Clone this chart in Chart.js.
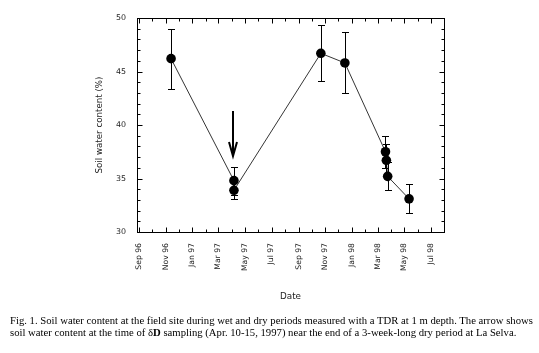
<!DOCTYPE html>
<html><head><meta charset="utf-8">
<script src="https://cdn.jsdelivr.net/npm/chart.js@4/dist/chart.umd.min.js"></script>
<style>
html,body{margin:0;padding:0;background:#fff;}
#wrap{position:relative;width:539px;height:353px;overflow:hidden;}
#c{position:absolute;left:0;top:0;}
#cap{position:absolute;left:10px;top:315px;font-family:"Liberation Serif","Times New Roman",serif;font-size:10.7px;line-height:11.5px;white-space:nowrap;color:#000;}
</style></head><body>
<div id="wrap"><canvas id="c" width="539" height="353"></canvas>
<div id="cap">Fig. 1. Soil water content at the field site during wet and dry periods measured with a TDR at 1 m depth. The arrow shows<br>soil water content at the time of δ<b>D</b> sampling (Apr. 10-15, 1997) near the end of a 3-week-long dry period at La Selva.</div></div>
<script>
// ---- data ----
const sampleDates  = ['1996-11-13','1997-04-06','1997-04-06','1997-10-22','1997-12-16','1998-03-19','1998-03-21','1998-03-24','1998-05-12'];
const waterContent = [46.2, 34.8, 33.9, 46.7, 45.8, 37.5, 36.7, 35.2, 33.1];
const errorSize    = [2.8, 1.3, 0.85, 2.6, 2.85, 1.5, 1.5, 1.3, 1.35];

const monthTicks  = ['1996-09','1996-10','1996-11','1996-12','1997-01','1997-02','1997-03','1997-04','1997-05','1997-06','1997-07','1997-08','1997-09','1997-10','1997-11','1997-12','1998-01','1998-02','1998-03','1998-04','1998-05','1998-06','1998-07'];
const monthLabels = ['Sep 96','','Nov 96','','Jan 97','','Mar 97','','May 97','','Jul 97','','Sep 97','','Nov 97','','Jan 98','','Mar 98','','May 98','','Jul 98'];
const yTickValues = [30,31,32,33,34,35,36,37,38,39,40,41,42,43,44,45,46,47,48,49,50];
const yTickLabels = ['30','','','','','35','','','','','40','','','','','45','','','','','50'];

const xRange = ['1996-08-27','1998-07-31'];
const yRange = [30, 50];

const arrowDate = '1997-04-04';
const arrowTop = 41.3;
const arrowTip = 37.1;

function day(s){ const p = s.split('-').map(Number); return Date.UTC(p[0], p[1]-1, p[2] || 1) / 86400000; }

const decor = {
  id: 'decor',
  beforeDatasetsDraw(chart){
    const {ctx, scales:{x, y}} = chart;
    ctx.save();
    ctx.strokeStyle = '#000'; ctx.lineWidth = 1;
    sampleDates.forEach((d, i) => {
      const px = Math.round(x.getPixelForValue(day(d))) + 0.5;
      const lo = Math.round(y.getPixelForValue(waterContent[i] - errorSize[i])) + 0.5;
      const hi = Math.round(y.getPixelForValue(waterContent[i] + errorSize[i])) + 0.5;
      ctx.beginPath();
      ctx.moveTo(px, lo); ctx.lineTo(px, hi);
      ctx.moveTo(px - 3.5, lo); ctx.lineTo(px + 3.5, lo);
      ctx.moveTo(px - 3.5, hi); ctx.lineTo(px + 3.5, hi);
      ctx.stroke();
    });
    ctx.restore();
  },
  afterDraw(chart){
    const {ctx, chartArea:a, scales:{x, y}} = chart;
    ctx.save();
    ctx.strokeStyle = '#000'; ctx.lineWidth = 1;
    const L = Math.round(a.left) + 0.5, R = Math.round(a.right) + 0.5, T = Math.round(a.top) + 0.5, B = Math.round(a.bottom) + 0.5;
    ctx.strokeRect(L, T, R - L, B - T);
    ctx.beginPath();
    monthTicks.forEach((m, i) => {
      const px = Math.round(x.getPixelForValue(day(m))) + 0.5;
      const len = monthLabels[i] ? 5 : 3;
      ctx.moveTo(px, B); ctx.lineTo(px, B - len);
      ctx.moveTo(px, T); ctx.lineTo(px, T + len);
    });
    yTickValues.forEach((v, i) => {
      const py = Math.round(y.getPixelForValue(v)) + 0.5;
      const len = yTickLabels[i] ? 5 : 3;
      ctx.moveTo(L, py); ctx.lineTo(L + len, py);
      ctx.moveTo(R, py); ctx.lineTo(R - len, py);
    });
    ctx.stroke();
    // arrow
    const ax = Math.round(x.getPixelForValue(day(arrowDate)));
    const y1 = y.getPixelForValue(arrowTop), y2 = y.getPixelForValue(arrowTip);
    ctx.lineWidth = 2;
    ctx.beginPath();
    ctx.moveTo(ax, y1); ctx.lineTo(ax, y2 - 1);
    ctx.moveTo(ax - 4, y2 - 14); ctx.lineTo(ax, y2); ctx.lineTo(ax + 4, y2 - 14);
    ctx.stroke();
    ctx.restore();
  }
};

new Chart(document.getElementById('c'), {
  type: 'scatter',
  data: { datasets: [{
    data: sampleDates.map((d, i) => ({x: day(d), y: waterContent[i]})),
    showLine: true, borderColor: '#000', borderWidth: 0.8,
    pointRadius: 4.8, pointHoverRadius: 4.8, pointBackgroundColor: '#000', pointBorderWidth: 0
  }]},
  options: {
    responsive: false, animation: false, events: [],
    layout: { padding: { left: 95, top: 18, right: 95, bottom: 51 } },
    plugins: { legend: {display: false}, tooltip: {enabled: false} },
    scales: {
      x: {
        type: 'linear', min: day(xRange[0]), max: day(xRange[1]),
        grid: {display: false, drawTicks: false}, border: {display: false},
        afterBuildTicks: s => { s.ticks = monthTicks.map(m => ({value: day(m)})); },
        afterFit: s => { s.height = 70; },
        ticks: { autoSkip: false, minRotation: 90, maxRotation: 90, padding: 11, color: '#222',
          font: {family: 'DejaVu Sans', size: 7.7}, callback: (v, i) => monthLabels[i] },
        title: { display: true, text: 'Date', color: '#222', font: {family: 'DejaVu Sans', size: 8.8}, padding: 0 }
      },
      y: {
        min: yRange[0], max: yRange[1],
        grid: {display: false, drawTicks: false}, border: {display: false},
        afterBuildTicks: s => { s.ticks = yTickValues.map(v => ({value: v})); },
        afterFit: s => { s.width = 42; },
        ticks: { autoSkip: false, padding: 11, color: '#222',
          font: {family: 'DejaVu Sans', size: 7.9}, callback: (v, i) => yTickLabels[i] },
        title: { display: true, text: 'Soil water content (%)', color: '#222', font: {family: 'DejaVu Sans', size: 8.7}, padding: 0 }
      }
    }
  },
  plugins: [decor]
});
</script>
</body></html>
